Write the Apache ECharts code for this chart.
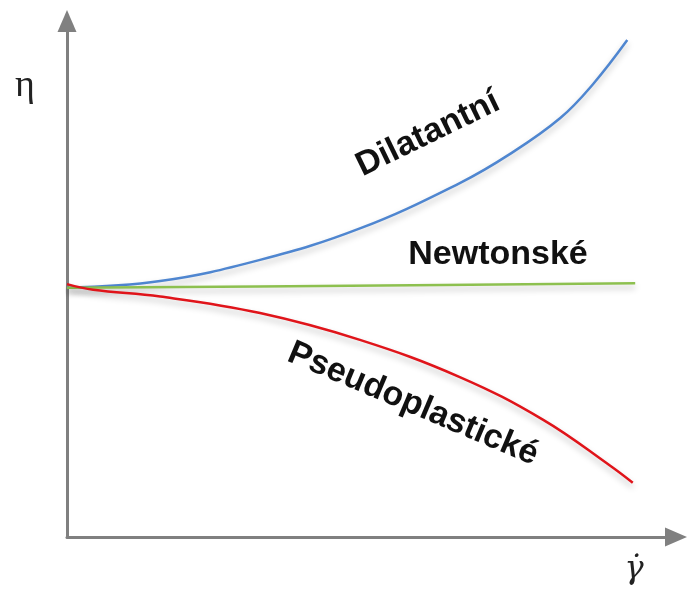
<!DOCTYPE html>
<html>
<head>
<meta charset="utf-8">
<script src="https://cdn.jsdelivr.net/npm/echarts@6/dist/echarts.min.js"></script>
<style>
  html, body { margin: 0; padding: 0; background: #fff; }
  #main { width: 687px; height: 589px; }
</style>
</head>
<body>
<div id="main"></div>
<script>
// hodnoty (libovolné jednotky, osa 0..10)
var dilatantX = [0, 1.53, 3.17, 4.81, 6.45, 7.27, 8.10, 8.64, 9.20]
var dilatantY = [4.83, 4.96, 5.37, 5.98, 6.86, 7.42, 8.12, 8.78, 9.63]

var newtonX = [0, 4.65, 9.33]
var newtonY = [4.83, 4.87, 4.92]

var pseudoX = [0, 0.43, 1.53, 3.17, 4.81, 6.45, 7.82, 8.92, 9.29]
var pseudoY = [4.90, 4.79, 4.66, 4.34, 3.82, 3.10, 2.27, 1.38, 1.05]

function pairs (xs, ys) {
  return xs.map(function (x, i) { return [x, ys[i]] })
}

var myChart = echarts.init(document.getElementById('main'))

var axisLine = {
  show: true,
  symbol: ['none', 'triangle'],
  symbolSize: [19, 22],
  lineStyle: { color: '#808080', width: 3 }
}

var shadow = { // jemný stín pod křivkami
  shadowColor: 'rgba(0,0,0,0.25)',
  shadowBlur: 6,
  shadowOffsetY: 4
}

var option = {
  animation: false,
  grid: { left: 67, top: 21, right: 11, bottom: 52 },
  xAxis: {
    type: 'value',
    min: 0,
    max: 10,
    axisLine: axisLine,
    axisTick: { show: false },
    axisLabel: { show: false },
    splitLine: { show: false }
  },
  yAxis: {
    type: 'value',
    min: 0,
    max: 10,
    axisLine: axisLine,
    axisTick: { show: false },
    axisLabel: { show: false },
    splitLine: { show: false }
  },
  series: [
    {
      name: 'Dilatantní',
      type: 'line',
      smooth: 0.4,
      symbol: 'none',
      data: pairs(dilatantX, dilatantY),
      lineStyle: Object.assign({ color: '#4f86d0', width: 2.5 }, shadow)
    },
    {
      name: 'Newtonské',
      type: 'line',
      smooth: 0.4,
      symbol: 'none',
      data: pairs(newtonX, newtonY),
      lineStyle: Object.assign({ color: '#8dc04f', width: 2.5 }, shadow)
    },
    {
      name: 'Pseudoplastické',
      type: 'line',
      smooth: 0.4,
      symbol: 'none',
      data: pairs(pseudoX, pseudoY),
      lineStyle: Object.assign({ color: '#e0141a', width: 2.5 }, shadow)
    }
  ],
  graphic: [
    {
      type: 'text', x: 428, y: 134, rotation: 26 * Math.PI / 180,
      style: { text: 'Dilatantní', font: 'bold 34px "Liberation Sans", Arial, sans-serif', fill: '#111', textAlign: 'center', textVerticalAlign: 'middle' }
    },
    {
      type: 'text', x: 498, y: 255,
      style: { text: 'Newtonské', font: 'bold 34px "Liberation Sans", Arial, sans-serif', fill: '#111', textAlign: 'center', textVerticalAlign: 'middle' }
    },
    {
      type: 'text', x: 413, y: 404, rotation: -23 * Math.PI / 180,
      style: { text: 'Pseudoplastické', font: 'bold 34px "Liberation Sans", Arial, sans-serif', fill: '#111', textAlign: 'center', textVerticalAlign: 'middle' }
    },
    {
      type: 'text', x: 25, y: 86,
      style: { text: 'η', font: '38px "Liberation Serif", "DejaVu Serif", serif', fill: '#222', textAlign: 'center', textVerticalAlign: 'middle' }
    },
    {
      type: 'text', x: 634, y: 570,
      style: { text: 'γ̇', font: 'italic 32px "DejaVu Serif", "Liberation Serif", serif', fill: '#222', textAlign: 'center', textVerticalAlign: 'middle' }
    }
  ]
}

myChart.setOption(option)
</script>
</body>
</html>
